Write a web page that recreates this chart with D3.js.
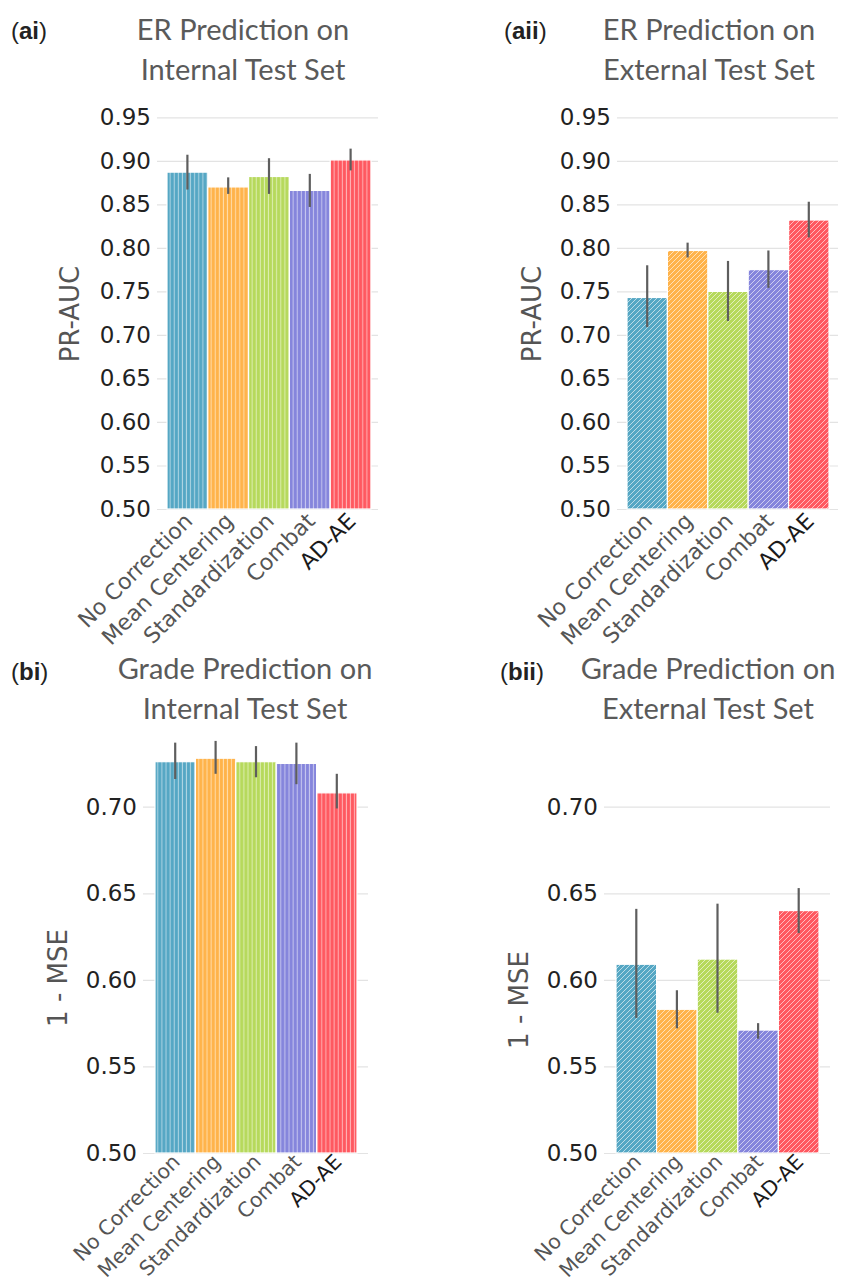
<!DOCTYPE html>
<html>
<head>
<meta charset="utf-8">
<script src="https://cdn.jsdelivr.net/npm/d3@7"></script>
<style>
  body { margin: 0; background: #fff; }
  svg { display: block; }
  .tick line { stroke: #e3e3e3; stroke-width: 1.2; }
  .tick text { font-family: 'DejaVu Sans', sans-serif; font-size: 23px; fill: #222; }
</style>
</head>
<body>
<svg class="chart"></svg>
<script>
const methods = ['No Correction', 'Mean Centering', 'Standardization', 'Combat', 'AD-AE'];
const colors = ['#55a7c4', '#ffb34a', '#b6d95c', '#8585dc', '#ff5860'];

const erInternal   = [0.887, 0.870, 0.882, 0.866, 0.901];
const erInternalLo = [0.867, 0.862, 0.862, 0.847, 0.889];
const erInternalHi = [0.907, 0.881, 0.903, 0.885, 0.914];

const erExternal   = [0.743, 0.797, 0.750, 0.775, 0.832];
const erExternalLo = [0.709, 0.789, 0.716, 0.754, 0.812];
const erExternalHi = [0.780, 0.806, 0.785, 0.797, 0.853];

const gradeInternal   = [0.726, 0.728, 0.726, 0.725, 0.708];
const gradeInternalLo = [0.716, 0.719, 0.717, 0.713, 0.699];
const gradeInternalHi = [0.737, 0.738, 0.735, 0.737, 0.719];

const gradeExternal   = [0.609, 0.583, 0.612, 0.571, 0.640];
const gradeExternalLo = [0.578, 0.572, 0.581, 0.566, 0.627];
const gradeExternalHi = [0.641, 0.594, 0.644, 0.575, 0.653];

const erTicks = [0.50, 0.55, 0.60, 0.65, 0.70, 0.75, 0.80, 0.85, 0.90, 0.95];
const gradeTicks = [0.50, 0.55, 0.60, 0.65, 0.70];

const svg = d3.select('.chart')
  .attr('width', 841)
  .attr('height', 1282);

// hatch patterns: vertical stripes (internal) and diagonal (external)
const defs = svg.append('defs');
colors.forEach((c, i) => {
  const v = defs.append('pattern')
    .attr('id', 'vert' + i)
    .attr('patternUnits', 'userSpaceOnUse')
    .attr('width', 4.1).attr('height', 10);
  v.append('rect').attr('width', 4.1).attr('height', 10).attr('fill', c);
  v.append('line').attr('x1', 2).attr('x2', 2).attr('y1', 0).attr('y2', 10)
    .attr('stroke', '#fff').attr('stroke-opacity', 0.55).attr('stroke-width', 1);

  const d = defs.append('pattern')
    .attr('id', 'diag' + i)
    .attr('patternUnits', 'userSpaceOnUse')
    .attr('width', 5).attr('height', 5);
  d.append('rect').attr('width', 5).attr('height', 5).attr('fill', c);
  d.append('path').attr('d', 'M-1,1 l2,-2 M0,5 l5,-5 M4,6 l2,-2')
    .attr('stroke', '#fff').attr('stroke-opacity', 0.6).attr('stroke-width', 1);
});

function drawPanel(p) {
  const g = svg.append('g');
  const y = d3.scaleLinear().domain([0.5, p.top]).range(p.yRange);
  const x = d3.scaleBand().domain(methods).range(p.barRange).padding(0);

  // grid + tick labels
  g.append('g')
    .attr('transform', `translate(${p.gridRange[0]},0)`)
    .call(d3.axisLeft(y).tickValues(p.ticks).tickFormat(d3.format('.2f'))
      .tickSize(-(p.gridRange[1] - p.gridRange[0])).tickPadding(6))
    .call(s => s.select('.domain').remove());

  const rows = methods.map((m, i) => ({m, i, v: p.vals[i], lo: p.lo[i], hi: p.hi[i]}));

  g.selectAll('rect.bar').data(rows).enter().append('rect')
    .attr('class', 'bar')
    .attr('x', d => x(d.m))
    .attr('width', x.bandwidth())
    .attr('y', d => y(d.v))
    .attr('height', d => y(0.5) - y(d.v))
    .attr('fill', d => `url(#${p.hatch}${d.i})`)
    .attr('stroke', '#fff')
    .attr('stroke-width', 1.2);

  g.selectAll('line.err').data(rows).enter().append('line')
    .attr('class', 'err')
    .attr('x1', d => x(d.m) + x.bandwidth() / 2)
    .attr('x2', d => x(d.m) + x.bandwidth() / 2)
    .attr('y1', d => y(d.lo))
    .attr('y2', d => y(d.hi))
    .attr('stroke', '#5e5e5e')
    .attr('stroke-width', 2.2);

  g.selectAll('text.xlab').data(rows).enter().append('text')
    .attr('class', 'xlab')
    .attr('transform', d => `translate(${x(d.m) + x.bandwidth() / 2 + 1},${y(0.5) + p.labOff}) rotate(-45)`)
    .attr('text-anchor', 'end')
    .attr('dy', '0.35em')
    .style('font-family', "'DejaVu Sans', sans-serif")
    .style('font-size', p.labSize + 'px')
    .style('fill', d => d.m === 'AD-AE' ? '#1a1a1a' : '#555')
    .text(d => d.m);

  g.append('text')
    .attr('transform', `translate(${p.yLabelPos[0]},${p.yLabelPos[1]}) rotate(-90)`)
    .attr('text-anchor', 'middle')
    .style('font-family', "'DejaVu Sans', sans-serif")
    .style('font-size', '26px')
    .style('fill', '#555')
    .text(p.yLabel);

  // panel tag like "(ai)"
  const tag = g.append('text')
    .attr('x', p.tagPos[0]).attr('y', p.tagPos[1])
    .style('font-family', "'Liberation Sans', Arial, sans-serif")
    .style('font-size', '24px')
    .style('fill', '#222');
  tag.append('tspan').text('(');
  tag.append('tspan').style('font-weight', 'bold').text(p.tag);
  tag.append('tspan').text(')');

  p.title.forEach((t, k) => {
    g.append('text')
      .attr('x', p.titleX)
      .attr('y', p.titleY + k * 40)
      .attr('text-anchor', 'middle')
      .style('font-family', 'Lato, sans-serif')
      .style('font-size', '29px')
      .style('fill', '#5a5a5a')
      .text(t);
  });
}

drawPanel({
  tag: 'ai', tagPos: [11, 39], title: ['ER Prediction on', 'Internal Test Set'], titleX: 243, titleY: 40,
  vals: erInternal, lo: erInternalLo, hi: erInternalHi, hatch: 'vert',
  top: 0.95, yRange: [509, 117.3], ticks: erTicks,
  barRange: [167, 371], gridRange: [157, 378], labSize: 22, labOff: 8,
  yLabel: 'PR-AUC', yLabelPos: [79, 314]
});

drawPanel({
  tag: 'aii', tagPos: [504, 39], title: ['ER Prediction on', 'External Test Set'], titleX: 709, titleY: 40,
  vals: erExternal, lo: erExternalLo, hi: erExternalHi, hatch: 'diag',
  top: 0.95, yRange: [509, 117.3], ticks: erTicks,
  barRange: [627, 829], gridRange: [617, 838], labSize: 22, labOff: 8,
  yLabel: 'PR-AUC', yLabelPos: [541, 314]
});

drawPanel({
  tag: 'bi', tagPos: [11, 680], title: ['Grade Prediction on', 'Internal Test Set'], titleX: 245, titleY: 679,
  vals: gradeInternal, lo: gradeInternalLo, hi: gradeInternalHi, hatch: 'vert',
  top: 0.70, yRange: [1153, 806.7], ticks: gradeTicks,
  barRange: [155, 357], gridRange: [143, 368], labSize: 20.5, labOff: 5,
  yLabel: '1 - MSE', yLabelPos: [67, 978]
});

drawPanel({
  tag: 'bii', tagPos: [500, 680], title: ['Grade Prediction on', 'External Test Set'], titleX: 708, titleY: 679,
  vals: gradeExternal, lo: gradeExternalLo, hi: gradeExternalHi, hatch: 'diag',
  top: 0.70, yRange: [1153, 806.7], ticks: gradeTicks,
  barRange: [616, 819], gridRange: [604, 830], labSize: 20.5, labOff: 5,
  yLabel: '1 - MSE', yLabelPos: [528, 1000]
});
</script>
</body>
</html>
